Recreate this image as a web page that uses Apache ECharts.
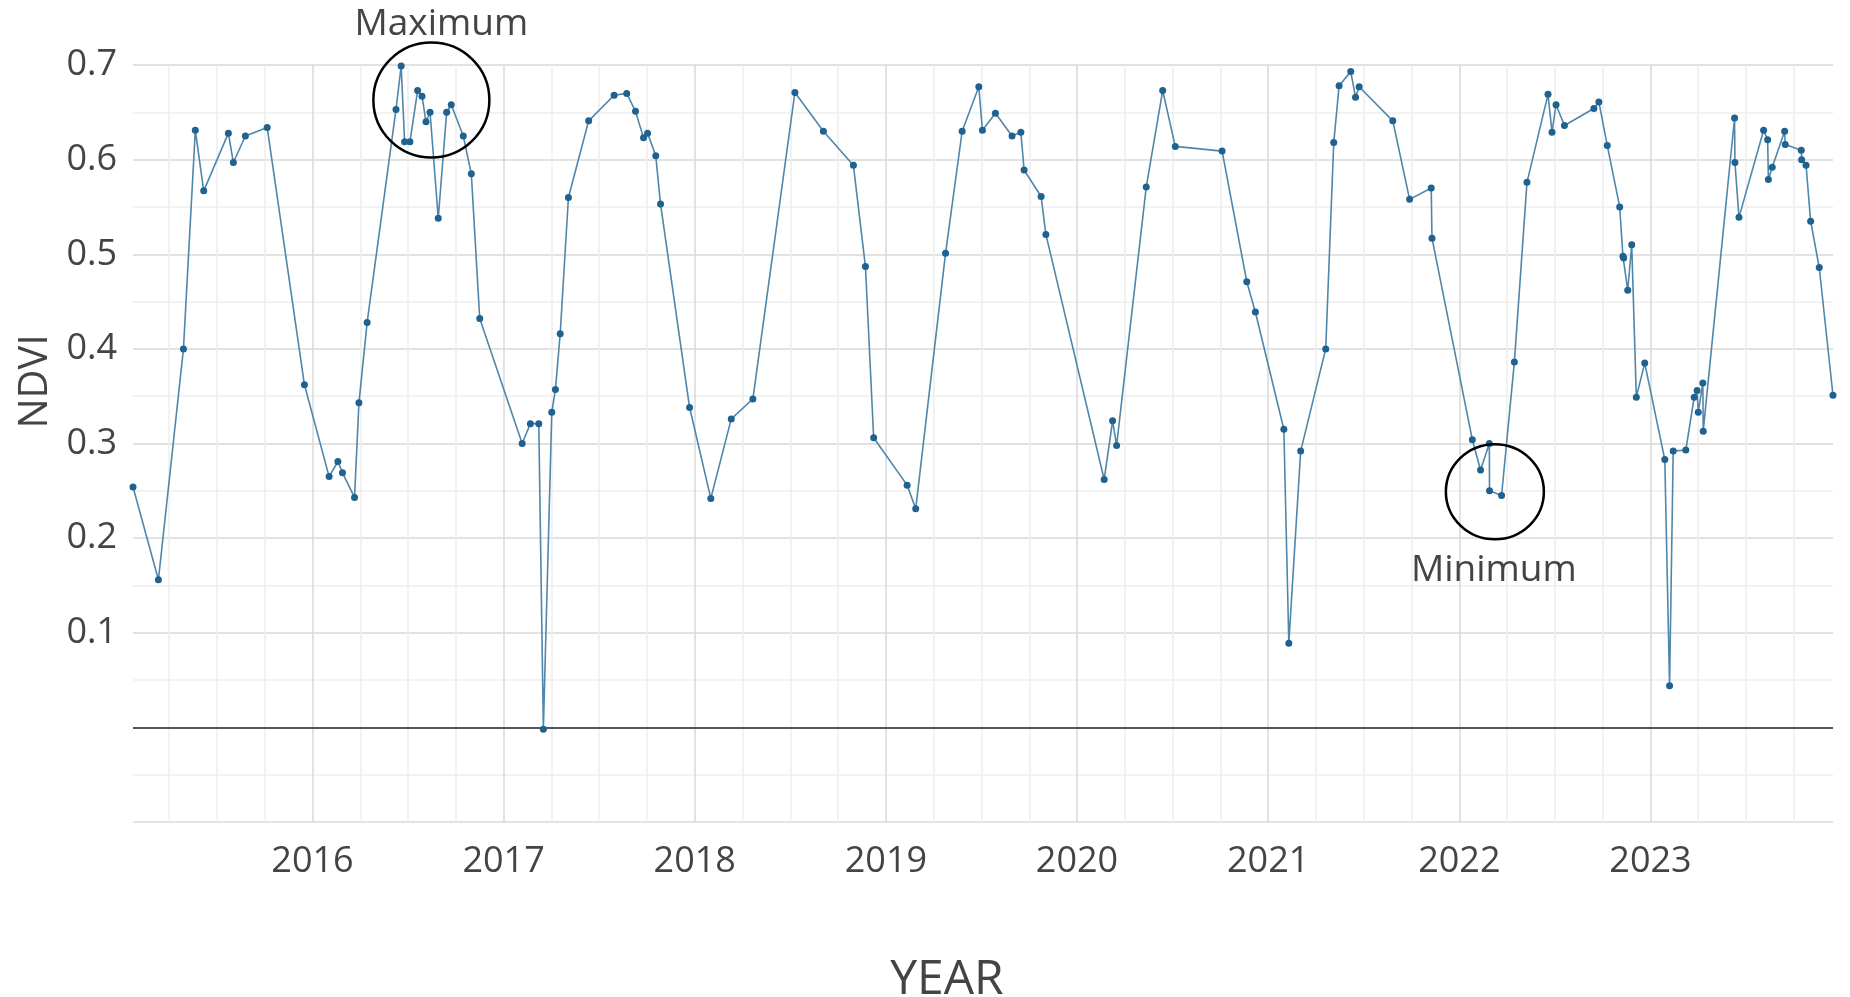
<!DOCTYPE html>
<html>
<head>
<meta charset="utf-8">
<script src="https://cdn.jsdelivr.net/npm/echarts@6/dist/echarts.min.js"></script>
<style>
html,body{margin:0;padding:0;background:#fff;}
#chart{width:1850px;height:997px;}
</style>
</head>
<body>
<div id="chart"></div>
<script>
// Observation times (decimal years)
const times = [
2015.061, 2015.194, 2015.325, 2015.387, 2015.431, 2015.560, 2015.586, 2015.649, 2015.763, 2015.958,
2016.087, 2016.133, 2016.157, 2016.220, 2016.243, 2016.286, 2016.437, 2016.464, 2016.482, 2016.510,
2016.550, 2016.573, 2016.594, 2016.615, 2016.658, 2016.702, 2016.726, 2016.789, 2016.831, 2016.875,
2017.097, 2017.140, 2017.184, 2017.208, 2017.252, 2017.271, 2017.296, 2017.339, 2017.445, 2017.578,
2017.644, 2017.690, 2017.732, 2017.753, 2017.796, 2017.821, 2017.973, 2018.084, 2018.191, 2018.304,
2018.524, 2018.673, 2018.830, 2018.893, 2018.936, 2019.111, 2019.156, 2019.312, 2019.399, 2019.486,
2019.505, 2019.573, 2019.660, 2019.706, 2019.723, 2019.812, 2019.837, 2020.142, 2020.186, 2020.207,
2020.362, 2020.448, 2020.514, 2020.759, 2020.888, 2020.933, 2021.082, 2021.108, 2021.170, 2021.301,
2021.343, 2021.371, 2021.432, 2021.457, 2021.476, 2021.652, 2021.740, 2021.853, 2021.857, 2022.068,
2022.111, 2022.157, 2022.158, 2022.221, 2022.288, 2022.354, 2022.464, 2022.485, 2022.506, 2022.550,
2022.704, 2022.730, 2022.774, 2022.839, 2022.856, 2022.860, 2022.881, 2022.902, 2022.926, 2022.970, 2023.075,
2023.100, 2023.119, 2023.185, 2023.229, 2023.244, 2023.250, 2023.274, 2023.276, 2023.440, 2023.442,
2023.463, 2023.592, 2023.613, 2023.617, 2023.637, 2023.702, 2023.705, 2023.789, 2023.791, 2023.814,
2023.838, 2023.883, 2023.955
];
// NDVI values
const ndvi = [
0.254, 0.156, 0.400, 0.631, 0.567, 0.628, 0.597, 0.625, 0.634, 0.362,
0.265, 0.281, 0.269, 0.243, 0.343, 0.428, 0.653, 0.699, 0.619, 0.619,
0.673, 0.667, 0.640, 0.650, 0.538, 0.650, 0.658, 0.625, 0.585, 0.432,
0.300, 0.321, 0.321, -0.002, 0.333, 0.357, 0.416, 0.560, 0.641, 0.668,
0.670, 0.651, 0.623, 0.628, 0.604, 0.553, 0.338, 0.242, 0.326, 0.347,
0.671, 0.630, 0.594, 0.487, 0.306, 0.256, 0.231, 0.501, 0.630, 0.677,
0.631, 0.649, 0.625, 0.629, 0.589, 0.561, 0.521, 0.262, 0.324, 0.298,
0.571, 0.673, 0.614, 0.609, 0.471, 0.439, 0.315, 0.089, 0.292, 0.400,
0.618, 0.678, 0.693, 0.666, 0.677, 0.641, 0.558, 0.570, 0.517, 0.304,
0.272, 0.300, 0.250, 0.245, 0.386, 0.576, 0.669, 0.629, 0.658, 0.636,
0.654, 0.661, 0.615, 0.550, 0.498, 0.496, 0.462, 0.510, 0.349, 0.385, 0.283,
0.044, 0.292, 0.293, 0.349, 0.356, 0.333, 0.364, 0.313, 0.644, 0.597,
0.539, 0.631, 0.621, 0.579, 0.592, 0.630, 0.616, 0.610, 0.600, 0.594,
0.535, 0.486, 0.351
];
// Y tick labels shown
const yTickLabels = ['0.1','0.2','0.3','0.4','0.5','0.6','0.7'];
// Annotations: [label, centre year, centre NDVI]
const annMaxLabel = 'Maximum', annMaxAt = [2016.622, 0.663];
const annMinLabel = 'Minimum', annMinAt = [2022.186, 0.249];

const FONT = 'Open Sans';
const TXT = '#444444';
const seriesData = times.map((t, i) => [t, ndvi[i]]);

const chart = echarts.init(document.getElementById('chart'), null, {renderer: 'canvas'});
chart.setOption({
  animation: false,
  backgroundColor: '#ffffff',
  grid: {left: 133, right: 17, top: 65, bottom: 175, containLabel: false, outerBoundsMode: 'none'},
  xAxis: {
    type: 'value',
    min: 'dataMin', max: 'dataMax',
    minInterval: 1, maxInterval: 1,
    axisLine: {show: false},
    axisTick: {show: false},
    axisLabel: {
      color: TXT, fontSize: 36, fontFamily: FONT, margin: 22,
      showMinLabel: false, showMaxLabel: false,
      formatter: v => Math.abs(v - Math.round(v)) < 1e-6 ? String(Math.round(v)) : ''
    },
    splitLine: {show: true, showMinLine: false, showMaxLine: false, lineStyle: {color: '#d9d9d9', width: 1.5}},
    minorTick: {show: false, splitNumber: 4},
    minorSplitLine: {show: true, lineStyle: {color: '#eeeeee', width: 1.5}},
    name: 'YEAR', nameLocation: 'middle', nameGap: 134,
    nameTextStyle: {fontSize: 48, color: TXT, fontFamily: FONT, padding: [0, 72, 0, 0]}
  },
  yAxis: {
    type: 'value', min: -0.1, max: 0.7, interval: 0.1,
    axisLine: {show: false},
    axisTick: {show: false},
    axisLabel: {
      color: TXT, fontSize: 36, fontFamily: FONT, margin: 16,
      formatter: v => {
        const s = v.toFixed(1);
        return yTickLabels.indexOf(s) >= 0 ? s : '';
      }
    },
    splitLine: {show: true, lineStyle: {color: '#d9d9d9', width: 1.5}},
    minorTick: {show: false, splitNumber: 2},
    minorSplitLine: {show: true, lineStyle: {color: '#eeeeee', width: 1.5}},
    name: 'NDVI', nameLocation: 'middle', nameGap: 50,
    nameTextStyle: {fontSize: 40, color: TXT, fontFamily: FONT, padding: [0, 0, 0, 124]}
  },
  series: [{
    type: 'line',
    data: seriesData,
    symbol: 'circle',
    symbolSize: 7,
    showSymbol: true,
    lineStyle: {color: '#4f86aa', width: 1.6},
    itemStyle: {color: '#1f618f'},
    z: 3,
    markLine: {
      silent: true, symbol: 'none',
      label: {show: false},
      lineStyle: {color: '#555555', width: 2, type: 'solid'},
      data: [{yAxis: 0}],
      z: 2
    },
    markPoint: {
      silent: true,
      symbol: 'circle',
      itemStyle: {color: 'rgba(0,0,0,0)', borderColor: '#000000', borderWidth: 2.5},
      label: {show: true, position: 'inside', color: TXT, fontSize: 37, fontFamily: FONT},
      data: [
        {coord: annMaxAt, symbolSize: [116, 115], label: {formatter: annMaxLabel, offset: [10, -76]}},
        {coord: annMinAt, symbolSize: [98, 95], label: {formatter: annMinLabel, offset: [-1, 79]}}
      ]
    }
  }]
});
</script>
</body>
</html>
